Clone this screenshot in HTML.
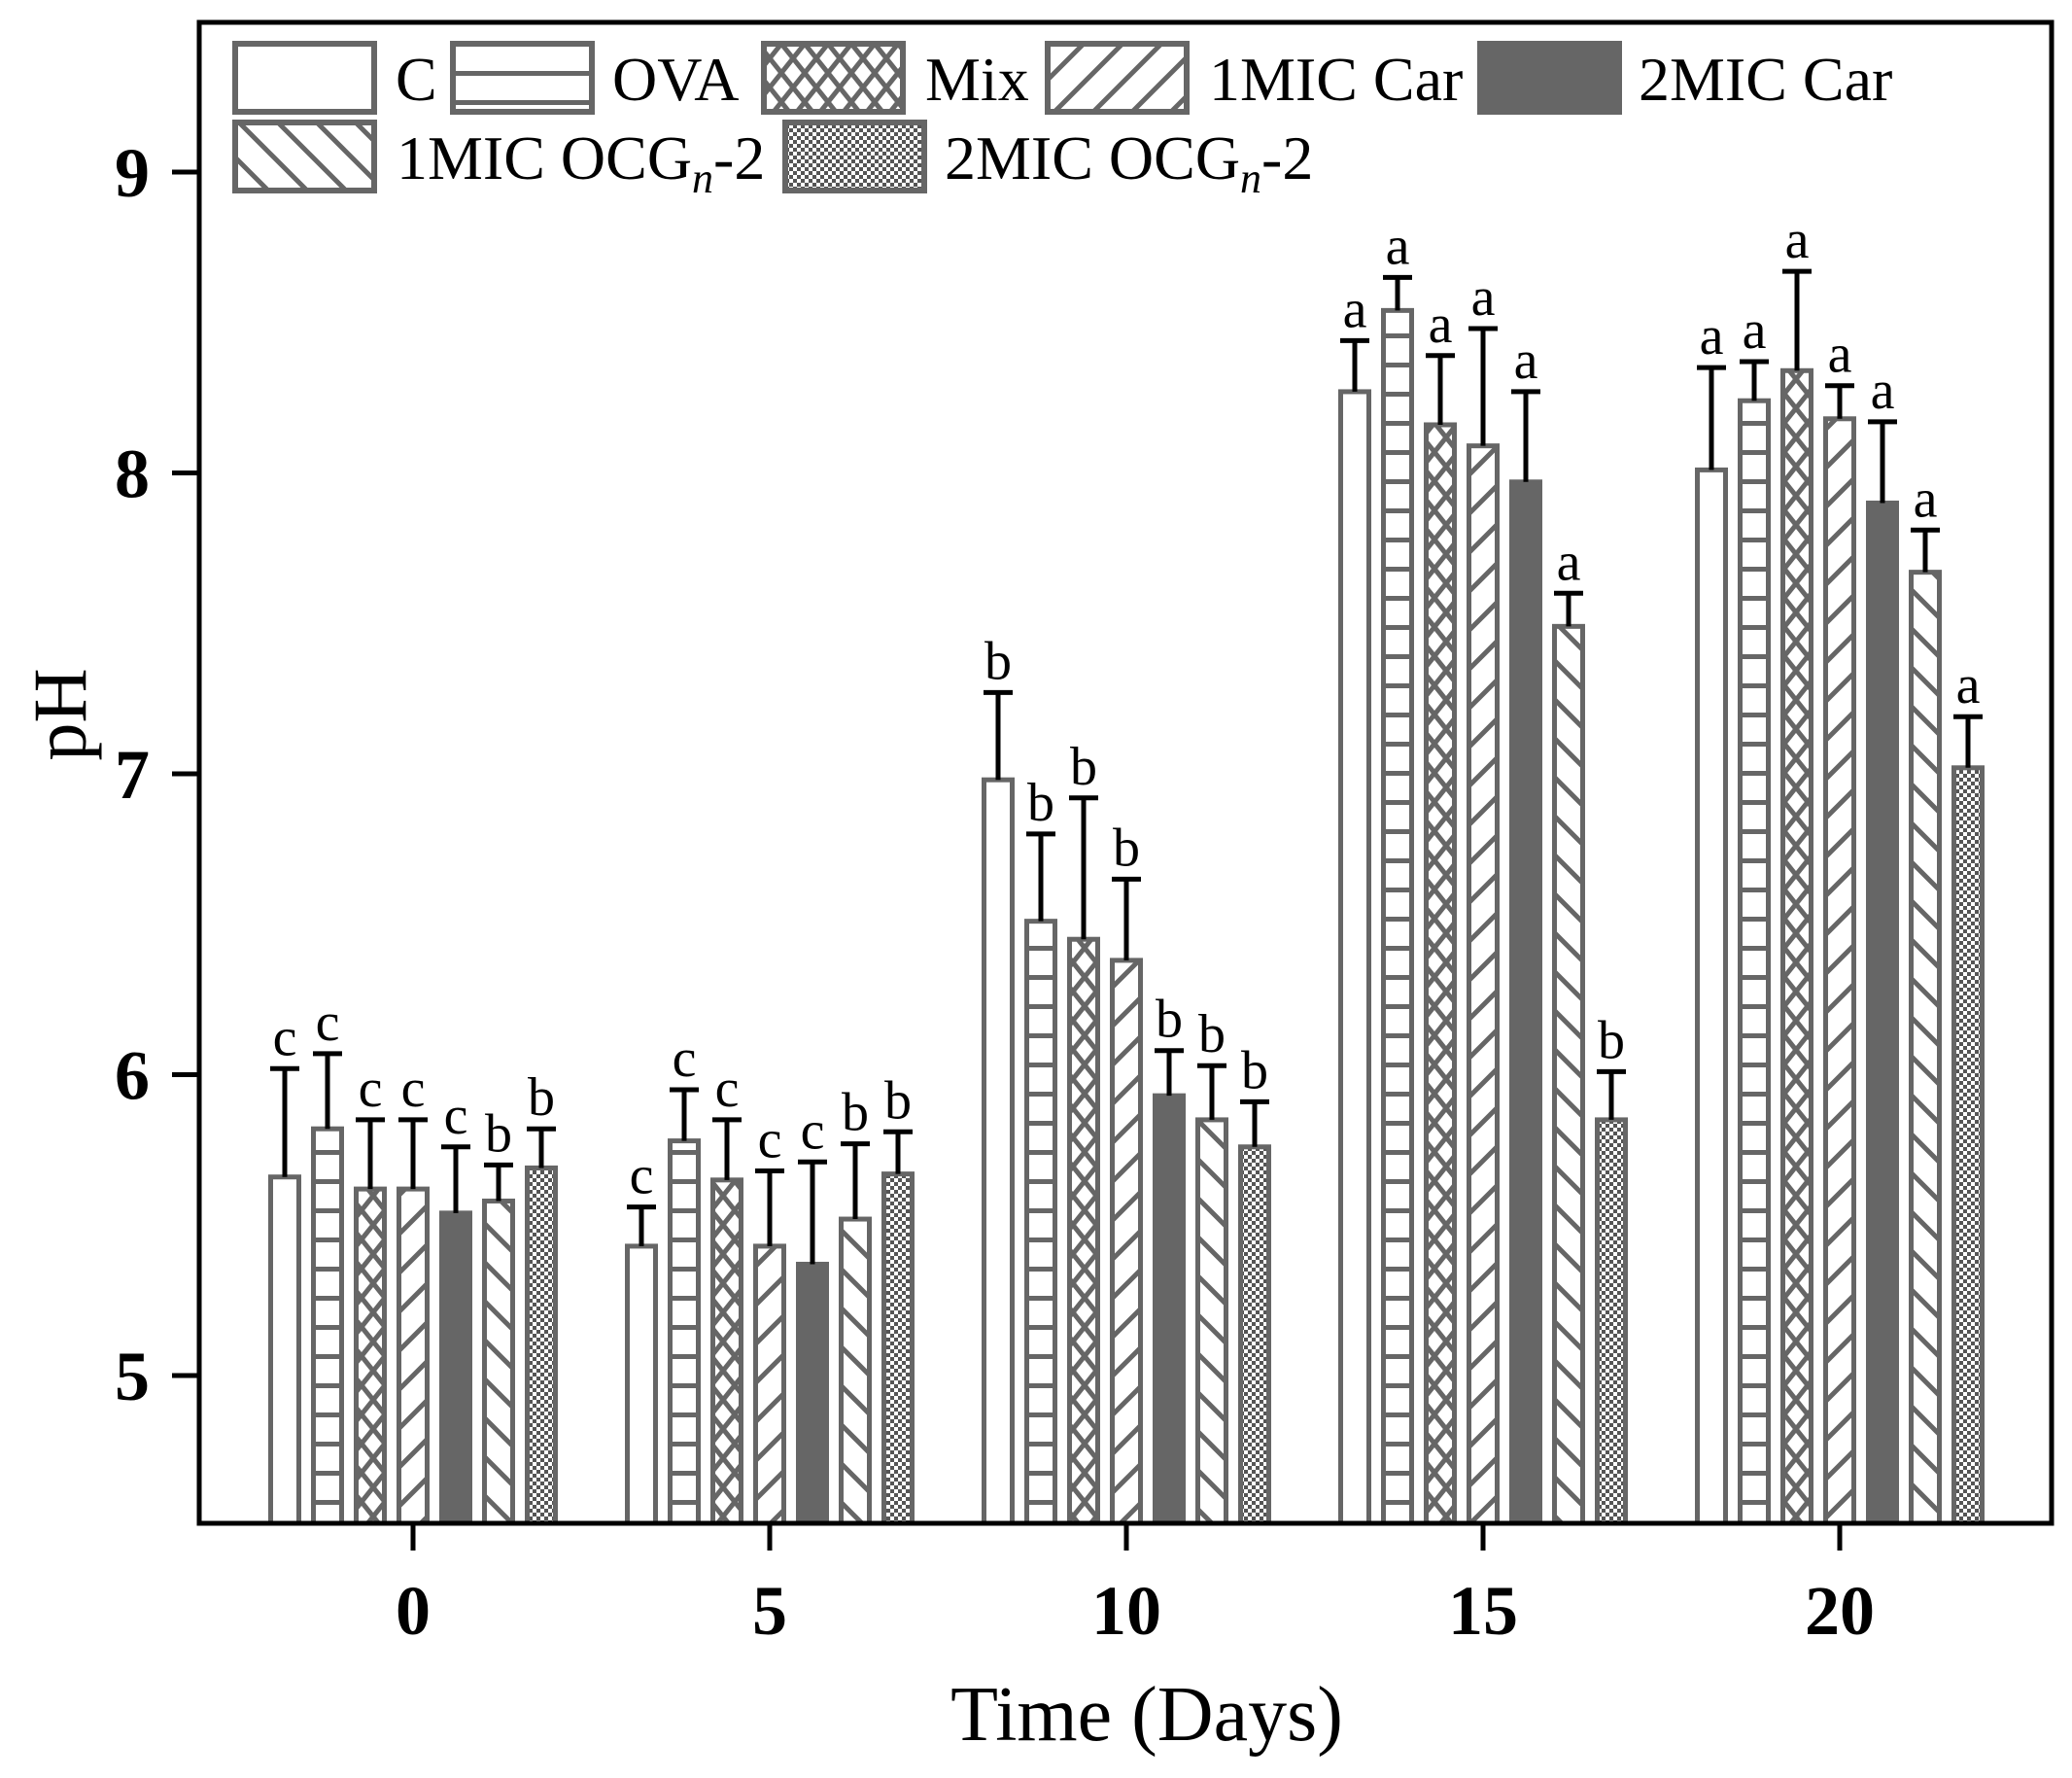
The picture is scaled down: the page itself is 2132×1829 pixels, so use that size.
<!DOCTYPE html>
<html><head><meta charset="utf-8"><style>
html,body{margin:0;padding:0;background:#fff}
svg{display:block}
text{font-family:"Liberation Serif",serif}
</style></head><body>
<svg id="chart" width="2132" height="1829" viewBox="0 0 2132 1829" xmlns="http://www.w3.org/2000/svg">
<defs>
<pattern id="p-ova" patternUnits="userSpaceOnUse" width="30" height="30"><rect width="30" height="30" fill="#fff"/><rect y="13" width="30" height="5" fill="#666"/></pattern>
<pattern id="p-mix" patternUnits="userSpaceOnUse" width="24" height="30"><rect width="24" height="30" fill="#fff"/><path d="M-6,-7.5 L30,37.5 M30,-7.5 L-6,37.5 M-18,7.5 L6,37.5 M18,-7.5 L42,22.5 M6,-7.5 L-18,22.5 M42,7.5 L18,37.5" stroke="#666" stroke-width="5"/></pattern>
<pattern id="p-fwd" patternUnits="userSpaceOnUse" width="40" height="40"><rect width="40" height="40" fill="#fff"/><path d="M-10,10 L10,-10 M-10,50 L50,-10 M30,50 L50,30" stroke="#666" stroke-width="5"/></pattern>
<pattern id="p-back" patternUnits="userSpaceOnUse" width="40" height="40"><rect width="40" height="40" fill="#fff"/><path d="M-10,30 L10,50 M-10,-10 L50,50 M30,-10 L50,10" stroke="#666" stroke-width="5"/></pattern>
<pattern id="p-check" patternUnits="userSpaceOnUse" width="8" height="8"><rect width="8" height="8" fill="#fff"/><rect width="4" height="4" fill="#555"/><rect x="4" y="4" width="4" height="4" fill="#555"/></pattern>
</defs>
<g id="bars"></g>
<g id="axes"></g>
<g id="legend"></g>
</svg>
<script>
const days = [0, 5, 10, 15, 20];
const seriesNames = ["C", "OVA", "Mix", "1MIC Car", "2MIC Car", "1MIC OCGn-2", "2MIC OCGn-2"];
const valC    = [5.66, 5.43, 6.98, 8.27, 8.01];
const valOVA  = [5.82, 5.78, 6.51, 8.54, 8.24];
const valMix  = [5.62, 5.65, 6.45, 8.16, 8.34];
const val1Car = [5.62, 5.43, 6.38, 8.09, 8.18];
const val2Car = [5.54, 5.37, 5.93, 7.97, 7.90];
const val1OCG = [5.58, 5.52, 5.85, 7.49, 7.67];
const val2OCG = [5.69, 5.67, 5.76, 5.85, 7.02];
const errC    = [0.36, 0.13, 0.29, 0.17, 0.34];
const errOVA  = [0.25, 0.17, 0.29, 0.11, 0.13];
const errMix  = [0.23, 0.20, 0.47, 0.23, 0.33];
const err1Car = [0.23, 0.25, 0.27, 0.39, 0.11];
const err2Car = [0.22, 0.34, 0.15, 0.30, 0.27];
const err1OCG = [0.12, 0.25, 0.18, 0.11, 0.14];
const err2OCG = [0.13, 0.14, 0.15, 0.16, 0.17];
const letC    = ["c","c","b","a","a"];
const letOVA  = ["c","c","b","a","a"];
const letMix  = ["c","c","b","a","a"];
const let1Car = ["c","c","b","a","a"];
const let2Car = ["c","c","b","a","a"];
const let1OCG = ["b","b","b","a","a"];
const let2OCG = ["b","b","b","b","a"];
const yTicks = [5, 6, 7, 8, 9];
const xTicks = [0, 5, 10, 15, 20];

const values = [valC,valOVA,valMix,val1Car,val2Car,val1OCG,val2OCG];
const errs = [errC,errOVA,errMix,err1Car,err2Car,err1OCG,err2OCG];
const lets = [letC,letOVA,letMix,let1Car,let2Car,let1OCG,let2OCG];
const fills = ["#fff","url(#p-ova)","url(#p-mix)","url(#p-fwd)","#666","url(#p-back)","url(#p-check)"];

const NS = "http://www.w3.org/2000/svg";
const X0=205, X1=2111, Y0=1567, Y1=23;
function xs(d){ return 425 + d*73.4; }
function ys(v){ return 177 + (9 - v)*309.5; }
function mk(tag, attrs, parent){ const e=document.createElementNS(NS,tag); for(const k in attrs) e.setAttribute(k,attrs[k]); parent.appendChild(e); return e; }

const gb = document.getElementById('bars');
const BW=29, STEP=44;
for(let s=0;s<7;s++){
  for(let i=0;i<days.length;i++){
    const cx = xs(days[i]) + (s-3)*STEP;
    const v = values[s][i], top = ys(v), ct = ys(v+errs[s][i]);
    const r = mk('rect',{x:cx-BW/2,y:top,width:BW,height:Y0-top,fill:fills[s],stroke:"#666","stroke-width":5},gb);
    
    
    const eb = mk('path',{d:`M${cx},${top} V${ct} M${cx-15},${ct} H${cx+15}`,stroke:"#000","stroke-width":5,fill:"none"},gb);
    
    
    const t = mk('text',{x:cx,y:ct-14,"font-size":56,"text-anchor":"middle"},gb);
    t.textContent = lets[s][i];
    
    
  }
}

const ga = document.getElementById('axes');
const frame = mk('rect',{x:X0,y:Y1,width:X1-X0,height:Y0-Y1,fill:"none",stroke:"#000","stroke-width":5},ga);


for(const t of yTicks){
  const y=ys(t);
  const l = mk('line',{x1:X0-28,x2:X0,y1:y,y2:y,stroke:"#000","stroke-width":5},ga);
  
  
  const tx = mk('text',{x:154,y:y+25,"font-size":72,"font-weight":"bold","text-anchor":"end"},ga);
  tx.textContent = t;
  
  
}
for(const t of xTicks){
  const x=xs(t);
  const l = mk('line',{x1:x,x2:x,y1:Y0,y2:Y0+28,stroke:"#000","stroke-width":5},ga);
  
  
  const tx = mk('text',{x:x,y:1681,"font-size":72,"font-weight":"bold","text-anchor":"middle"},ga);
  tx.textContent = t;
  
  
}
const xt = mk('text',{x:1180,y:1790,"font-size":80,"text-anchor":"middle"},ga);
xt.textContent = "Time (Days)";


const yt = mk('text',{x:0,y:0,"font-size":78,"text-anchor":"middle",transform:"translate(88,735) rotate(-90)"},ga);
yt.textContent = "pH";



const gl = document.getElementById('legend');
const legItems = [
  {bx:242,by:45,tx:407,s:0,label:"C"},
  {bx:466,by:45,tx:630,s:1,label:"OVA"},
  {bx:786,by:45,tx:952,s:2,label:"Mix"},
  {bx:1078,by:45,tx:1244,s:3,label:"1MIC Car"},
  {bx:1523,by:45,tx:1686,s:4,label:"2MIC Car"},
  {bx:242,by:126,tx:408,s:5,label:"1MIC OCG",sub:true},
  {bx:808,by:126,tx:972,s:6,label:"2MIC OCG",sub:true}
];
for(const it of legItems){
  const g = mk('g',{},gl);
  
  
  mk('rect',{x:it.bx,y:it.by,width:143,height:70,fill:fills[it.s],stroke:"#666","stroke-width":6},g);
  const t = mk('text',{x:it.tx,y:it.by+58,"font-size":64},g);
  if(it.sub){
    t.appendChild(document.createTextNode(it.label));
    const sp = mk('tspan',{"font-size":44,"font-style":"italic",dy:14},t);
    sp.textContent = "n";
    const sp2 = mk('tspan',{dy:-14},t);
    sp2.textContent = "-2";
  } else t.textContent = it.label;
}
</script>
</body></html>
